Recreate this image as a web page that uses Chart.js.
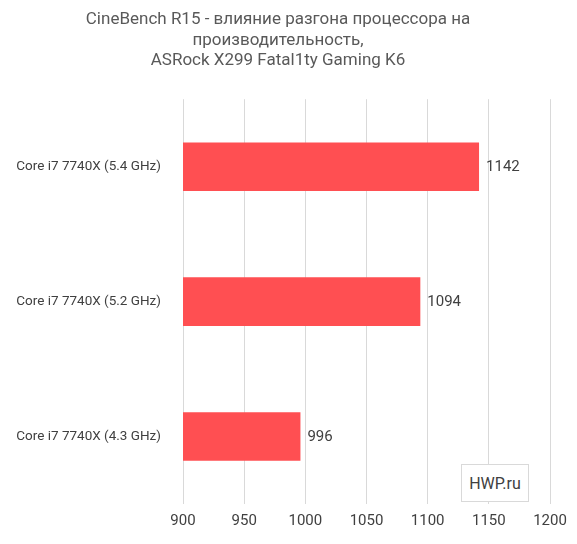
<!DOCTYPE html>
<html>
<head>
<meta charset="utf-8">
<script src="https://cdn.jsdelivr.net/npm/chart.js@4"></script>
<style>
  body { margin: 0; background: #fff; }
  #wrap { position: relative; width: 577px; height: 544px; }
  #wm { position: absolute; left: 461px; top: 464px; width: 66px; height: 36px; background: #fff;
        border: 1px solid #d9d9d9; font: 16px "Roboto", sans-serif; color: #404040;
        display: flex; align-items: center; justify-content: center; }
</style>
</head>
<body>
<div id="wrap">
  <canvas id="chart" width="577" height="544"></canvas>
  <div id="wm">HWP.ru</div>
</div>
<script>
const categories = ['Core i7 7740X (5.4 GHz)', 'Core i7 7740X (5.2 GHz)', 'Core i7 7740X (4.3 GHz)'];
const scores = [1142, 1094, 996];
const titleLines = ['CineBench R15 - влияние разгона процессора на', 'производительность,', 'ASRock X299 Fatal1ty Gaming K6'];

const font = '"Roboto", sans-serif';

const valueLabels = {
    id: 'valueLabels',
    afterDatasetsDraw(chart) {
        const ctx = chart.ctx;
        const meta = chart.getDatasetMeta(0);
        ctx.save();
        ctx.fillStyle = '#404040';
        ctx.font = '15px ' + font;
        ctx.textBaseline = 'middle';
        meta.data.forEach((bar, i) => {
            ctx.fillText(scores[i], bar.x + 7, bar.y + 1);
        });
        ctx.restore();
    }
};

new Chart(document.getElementById('chart').getContext('2d'), {
    type: 'bar',
    data: {
        labels: categories,
        datasets: [{
            data: scores,
            backgroundColor: '#ff4f52',
            barPercentage: 0.36,
            categoryPercentage: 1
        }]
    },
    options: {
        indexAxis: 'y',
        responsive: false,
        animation: false,
        layout: { padding: { left: 6, right: 27, top: 0, bottom: 6 } },
        plugins: {
            legend: { display: false },
            tooltip: { enabled: false },
            title: {
                display: true,
                text: titleLines,
                color: '#595959',
                font: { family: font, size: 17, weight: 'normal' },
                lineHeight: 1.65,
                padding: { top: 10, bottom: 28 }
            }
        },
        scales: {
            x: {
                min: 900,
                max: 1200,
                ticks: { stepSize: 50, color: '#404040', font: { family: font, size: 15 }, padding: 8,
                         callback: v => String(v) },
                grid: { color: '#d9d9d9', drawTicks: false },
                border: { display: false }
            },
            y: {
                afterFit: s => { s.width = 177; },
                ticks: { color: '#404040', font: { family: font, size: 13.5 }, padding: 14 },
                grid: { display: false },
                border: { display: false }
            }
        }
    },
    plugins: [valueLabels]
});
</script>
</body>
</html>
